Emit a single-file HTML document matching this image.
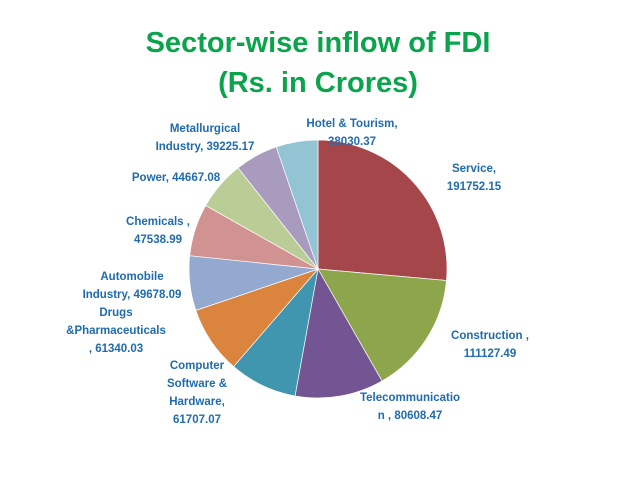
<!DOCTYPE html>
<html><head><meta charset="utf-8"><style>
body{margin:0;background:#fff;}
svg{display:block;font-family:"Liberation Sans",sans-serif;}
.lbl{fill:#1F6BAE;font-size:11.5px;font-weight:bold;text-anchor:middle;}
</style></head><body>
<svg id="chart" width="638" height="479" viewBox="0 0 638 479">
<text x="318" y="52" text-anchor="middle" font-size="29" font-weight="bold" fill="#0BA44C">Sector-wise inflow of FDI</text>
<text x="318" y="92" text-anchor="middle" font-size="29" font-weight="bold" fill="#0BA44C">(Rs. in Crores)</text>
<g id="slices"></g>
<g id="labels"></g>
</svg>
<script>
const categories=["Service","Construction","Telecommunication","Computer Software & Hardware","Drugs &Pharmaceuticals","Automobile Industry","Chemicals","Power","Metallurgical Industry","Hotel & Tourism"];
const values=[191752.15,111127.49,80608.47,61707.07,61340.03,49678.09,47538.99,44667.08,39225.17,38030.37];
const colors=["#A5474A","#8EA64B","#735593","#3F96AE","#DB843D","#93A9CF","#D09392","#BACD96","#A99BBD","#92C4D3"];
const labelLines=[["Service,","191752.15"],["Construction ,","111127.49"],["Telecommunicatio","n , 80608.47"],["Computer","Software &","Hardware,","61707.07"],["Drugs","&Pharmaceuticals",", 61340.03"],["Automobile","Industry, 49678.09"],["Chemicals ,","47538.99"],["Power, 44667.08"],["Metallurgical","Industry, 39225.17"],["Hotel & Tourism,","38030.37"]];
const labelPos=[[474,172],[490,339],[410,401],[197,369],[116,316],[132,280],[158,225],[176,181],[205,132],[352,127]];
const cx=318,cy=269,r=129;
const NS="http://www.w3.org/2000/svg";
const total=values.reduce((a,b)=>a+b,0);
function pt(a){return [cx+r*Math.sin(a),cy-r*Math.cos(a)];}
const sg=document.getElementById('slices');
let acc=0;
values.forEach((v,i)=>{
 const a0=acc/total*2*Math.PI; acc+=v; const a1=acc/total*2*Math.PI;
 const p0=pt(a0),p1=pt(a1);
 const p=document.createElementNS(NS,'path');
 p.setAttribute('d',`M${cx},${cy}L${p0[0]},${p0[1]}A${r},${r} 0 ${a1-a0>Math.PI?1:0} 1 ${p1[0]},${p1[1]}Z`);
 p.setAttribute('fill',colors[i]);
 p.setAttribute('stroke','#fff');p.setAttribute('stroke-width','0.7');
 
 
 sg.appendChild(p);
});
const lg=document.getElementById('labels');
labelLines.forEach((lines,i)=>{
 const t=document.createElementNS(NS,'text');
 t.setAttribute('class','lbl');
 
 
 lines.forEach((s,j)=>{
  const ts=document.createElementNS(NS,'tspan');
  ts.setAttribute('x',labelPos[i][0]);ts.setAttribute('y',labelPos[i][1]+j*18);
  ts.textContent=s;t.appendChild(ts);
 });
 lg.appendChild(t);
});
</script>
</body></html>
